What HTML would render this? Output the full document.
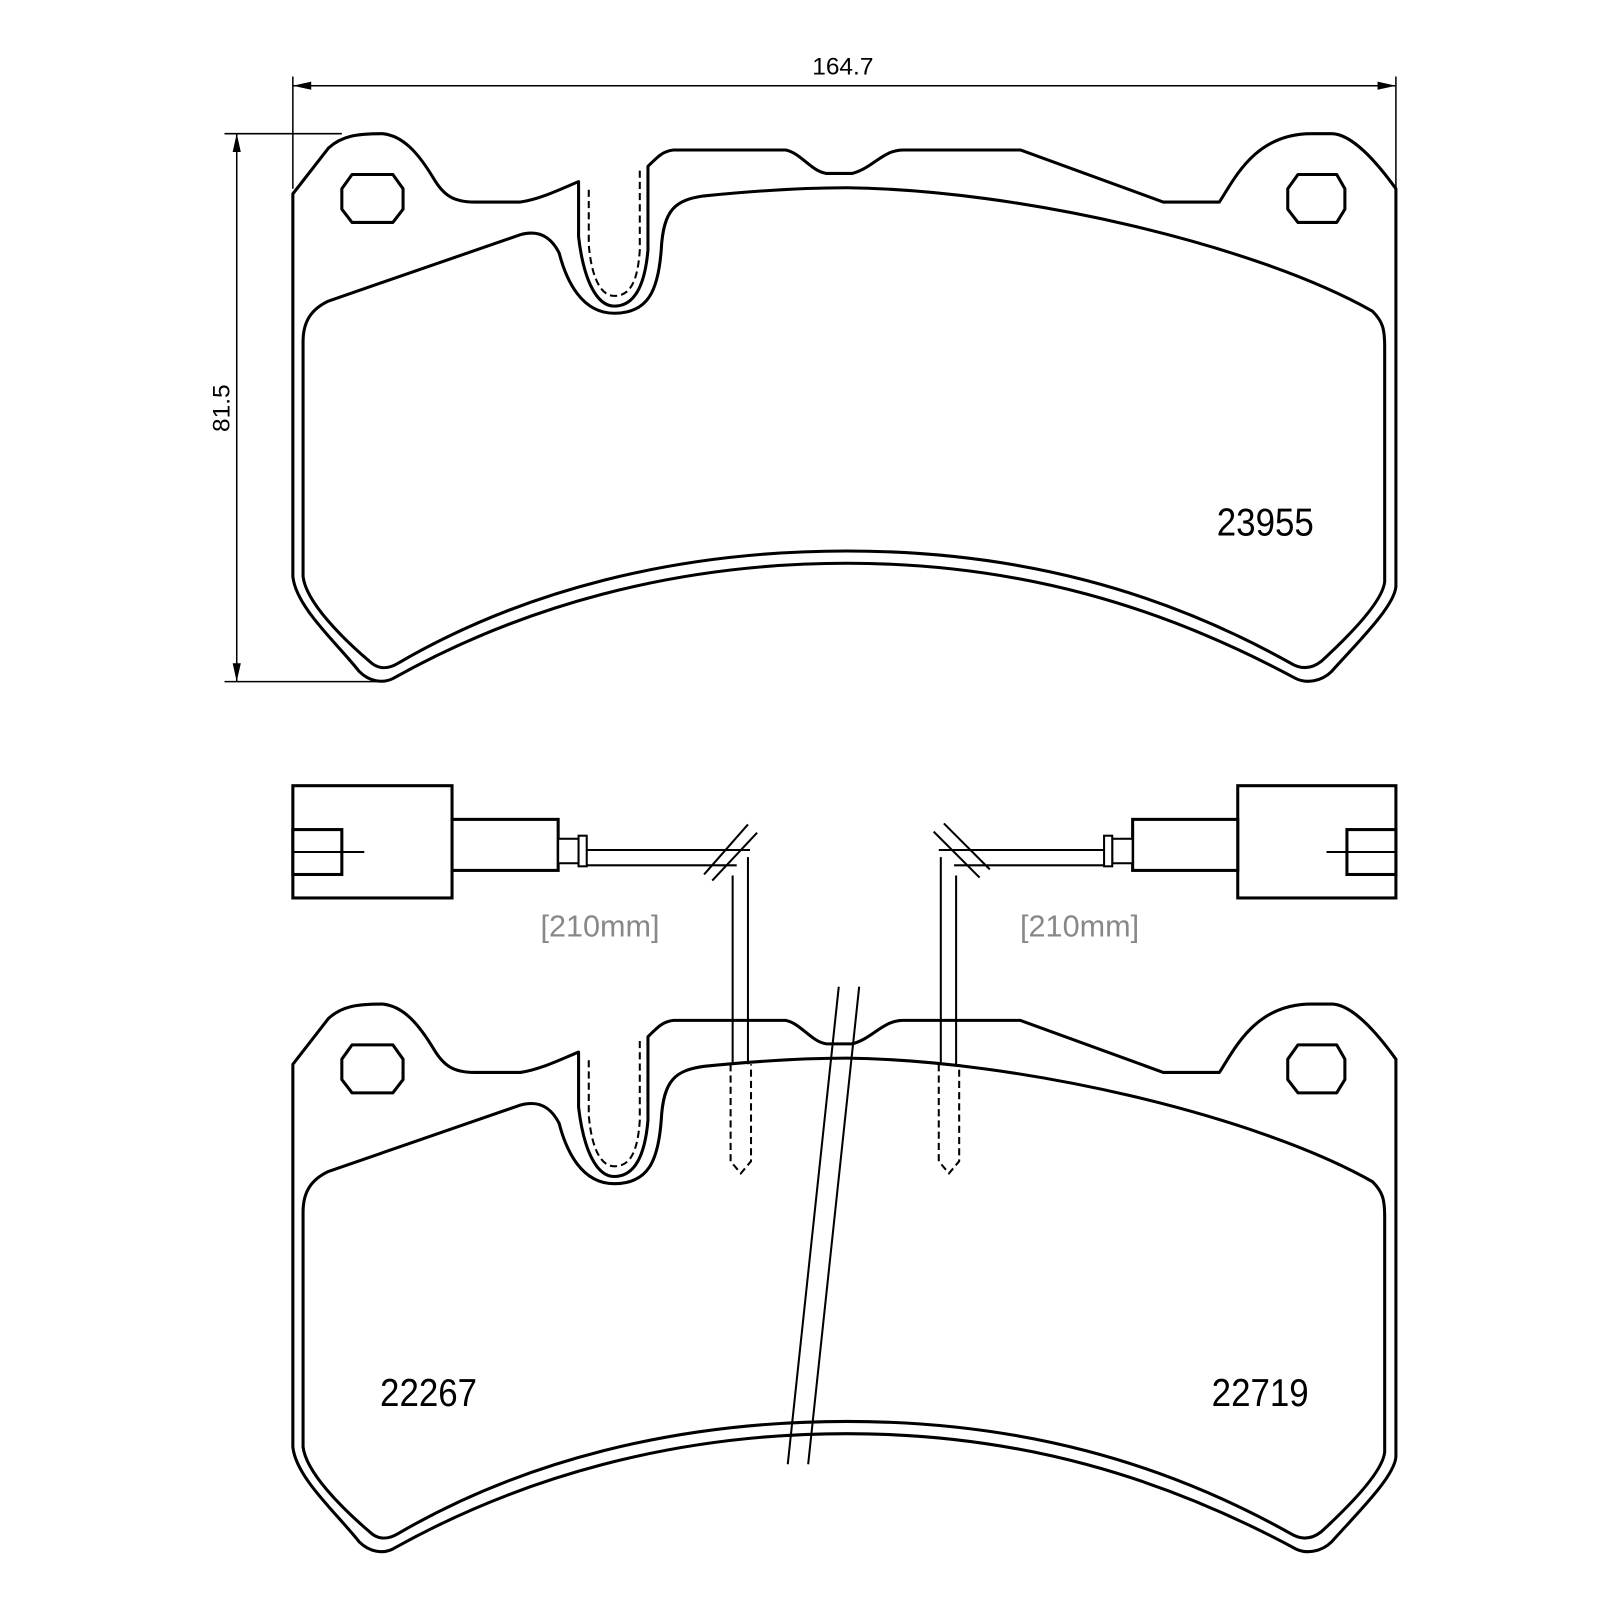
<!DOCTYPE html>
<html><head><style>
html,body{margin:0;padding:0;background:#fff;}
svg{display:block;}
text{font-family:"Liberation Sans",sans-serif;}
</style></head><body>
<svg width="1600" height="1600" viewBox="0 0 1600 1600" xmlns="http://www.w3.org/2000/svg">
<defs>
<g id="pad" fill="none" stroke="#000" stroke-width="3" stroke-linejoin="round">
  <path d="M287,565 L287,190 L322,145 C335,133 350,131 375,131 C395,133 410,150 425,175 C435,192 445,198 465,198 L510,198 C530,195 550,185 567,178 L567,232 C572,275 585,300 602,300 C622,300 632,280 635,245 L635,163 C645,153 650,148 660,147 L770,147 C785,150 795,168 810,170 L835,170 C855,165 865,147 885,147 L1000,147 L1140,198 L1195,198 C1210,175 1230,131 1285,131 L1305,131 C1325,131 1350,160 1368,185 L1368,575 C1366,595 1330,630 1305,658 C1295,668 1280,670 1270,665 C1140,595 1000,552 830,552 C660,552 510,595 385,665 C375,670 362,668 352,658 C330,630 290,595 287,565 Z"/>
  <path d="M297,565 L297,335 C297,315 305,303 322,295 L510,230 C528,225 540,232 548,248 C555,275 570,307 602,307 C635,307 645,285 648,245 C650,205 662,196 690,192 C760,185 800,184 830,184 C1000,186 1230,240 1345,305 C1355,315 1357,322 1357,340 L1357,570 C1355,590 1320,625 1295,648 C1285,656 1275,656 1265,650 C1140,580 1000,540 830,540 C660,540 510,580 390,650 C380,656 370,656 362,648 C335,625 300,590 297,565 Z"/>
  <path d="M345,171 L385,171 L395,185 L395,205 L385,218 L345,218 L335,205 L335,185 Z"/>
  <path d="M1272,171 L1310,171 L1318,185 L1318,205 L1310,218 L1272,218 L1262,205 L1262,185 Z"/>
  <path d="M577,186 L577,240 C580,275 590,290 602,290 C618,290 625,275 627,245 L627,165" stroke-width="2" stroke-dasharray="7,4"/>
</g>
</defs>

<g transform="scale(1.0204)">
<g stroke="#000" stroke-width="1.5" fill="none">
  <line x1="287" y1="75" x2="287" y2="185"/>
  <line x1="1368" y1="75" x2="1368" y2="190"/>
  <line x1="287" y1="84" x2="1368" y2="84"/>
  <line x1="220" y1="131" x2="335" y2="131"/>
  <line x1="220" y1="668" x2="375" y2="668"/>
  <line x1="232" y1="131" x2="232" y2="668"/>
</g>
<g fill="#000">
  <path d="M287,84 L305,80 L305,88 Z"/>
  <path d="M1368,84 L1350,80 L1350,88 Z"/>
  <path d="M232,131 L228,149 L236,149 Z"/>
  <path d="M232,668 L228,650 L236,650 Z"/>
</g>
<text x="826" y="73" font-size="24" text-anchor="middle">164.7</text>
<text x="0" y="0" font-size="24" text-anchor="middle" transform="translate(225,400) rotate(-90)">81.5</text>

<use href="#pad"/>
<text x="1240" y="525" font-size="38" text-anchor="middle" transform="translate(1240,0) scale(0.9,1) translate(-1240,0)">23955</text>

<use href="#pad" transform="translate(0,853)"/>
<text x="420" y="1378" font-size="38" text-anchor="middle" transform="translate(420,0) scale(0.9,1) translate(-420,0)">22267</text>
<text x="1235" y="1378" font-size="38" text-anchor="middle" transform="translate(1235,0) scale(0.9,1) translate(-1235,0)">22719</text>

<g fill="#fff" stroke="#000" stroke-width="3">
  <rect x="287" y="770" width="156" height="110"/>
  <rect x="287" y="813" width="48" height="44"/>
  <line x1="287" y1="835" x2="357" y2="835" stroke-width="2"/>
  <rect x="443" y="803" width="104" height="50"/>
  <rect x="547" y="822" width="20" height="24" stroke-width="2"/>
  <rect x="567" y="819" width="8" height="30" stroke-width="2"/>
  <line x1="575" y1="833" x2="735" y2="833" stroke-width="2"/>
  <line x1="575" y1="848" x2="722" y2="848" stroke-width="2"/>

  <rect x="1213" y="770" width="155" height="110"/>
  <rect x="1320" y="813" width="48" height="44"/>
  <line x1="1300" y1="835" x2="1368" y2="835" stroke-width="2"/>
  <rect x="1110" y="803" width="103" height="50"/>
  <rect x="1090" y="822" width="20" height="24" stroke-width="2"/>
  <rect x="1082" y="819" width="8" height="30" stroke-width="2"/>
  <line x1="920" y1="833" x2="1082" y2="833" stroke-width="2"/>
  <line x1="935" y1="848" x2="1082" y2="848" stroke-width="2"/>
</g>
<g stroke="#000" stroke-width="2" fill="none">
  <line x1="698" y1="863" x2="742" y2="816"/>
  <line x1="690" y1="857" x2="733" y2="808"/>
  <line x1="915" y1="815" x2="960" y2="860"/>
  <line x1="925" y1="807" x2="970" y2="852"/>
  <line x1="718" y1="858" x2="718" y2="1043"/>
  <line x1="733" y1="840" x2="733" y2="1043"/>
  <line x1="922" y1="840" x2="922" y2="1043"/>
  <line x1="937" y1="858" x2="937" y2="1043"/>
  <path d="M716,1043 L716,1138 L726,1150 L736,1138 L736,1043" stroke-dasharray="7,4"/>
  <path d="M920,1043 L920,1138 L930,1150 L940,1138 L940,1043" stroke-dasharray="7,4"/>
  <line x1="822" y1="967" x2="772" y2="1435"/>
  <line x1="842" y1="967" x2="792" y2="1435"/>
</g>
<text x="588" y="918" font-size="30" fill="#888" text-anchor="middle">[210mm]</text>
<text x="1058" y="918" font-size="30" fill="#888" text-anchor="middle">[210mm]</text>
</g>
</svg>
</body></html>
